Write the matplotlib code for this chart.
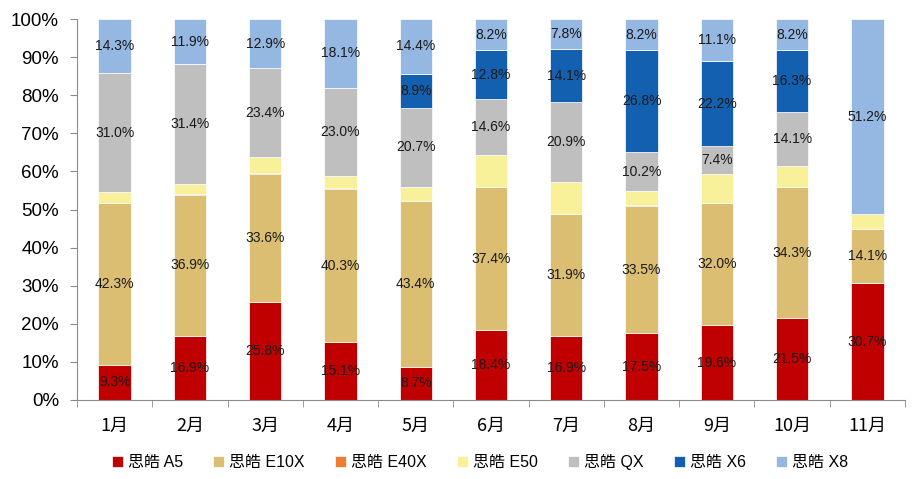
import numpy as np
import matplotlib.pyplot as plt
from matplotlib.ticker import FixedLocator, PercentFormatter

# monthly share of each model, %
months = ['1月', '2月', '3月', '4月', '5月', '6月', '7月', '8月', '9月', '10月', '11月']
a5 = [9.3, 16.9, 25.8, 15.1, 8.7, 18.4, 16.9, 17.5, 19.6, 21.5, 30.7]
e10x = [42.3, 36.9, 33.6, 40.3, 43.4, 37.4, 31.9, 33.5, 32.0, 34.3, 14.1]
e40x = [0.2, 0.2, 0.2, 0.2, 0.2, 0.1, 0.1, 0.1, 0.1, 0.1, 0.0]
e50 = [2.9, 2.7, 4.1, 3.3, 3.7, 8.5, 8.3, 3.7, 7.6, 5.5, 4.0]
qx = [31.0, 31.4, 23.4, 23.0, 20.7, 14.6, 20.9, 10.2, 7.4, 14.1, 0.0]
x6 = [0.0, 0.0, 0.0, 0.0, 8.9, 12.8, 14.1, 26.8, 22.2, 16.3, 0.0]
x8 = [14.3, 11.9, 12.9, 18.1, 14.4, 8.2, 7.8, 8.2, 11.1, 8.2, 51.2]

series = [
    ('思皓 A5', a5, '#C00000', True),
    ('思皓 E10X', e10x, '#DBBE72', True),
    ('思皓 E40X', e40x, '#ED7D31', False),
    ('思皓 E50', e50, '#F9F09A', False),
    ('思皓 QX', qx, '#BFBFBF', True),
    ('思皓 X6', x6, '#1360B0', True),
    ('思皓 X8', x8, '#95B8E2', True),
]

plt.rcParams['font.family'] = ['Liberation Sans', 'Noto Sans CJK SC']

fig = plt.figure(figsize=(9.18, 4.79), dpi=100)
ax = fig.add_axes([77 / 918, 1 - 400 / 479, (905 - 77) / 918, (400 - 19) / 479])

x = np.arange(len(months))
bottom = np.zeros(len(months))
for name, vals, color, labelled in series:
    vals = np.array(vals)
    ax.bar(x, vals, 0.43, bottom=bottom, color=color, label=name,
           edgecolor='white', linewidth=0.5)
    if labelled:
        for xi, b, v in zip(x, bottom, vals):
            if v > 0:
                ax.text(xi, b + v / 2, f'{v:.1f}%', ha='center', va='center',
                        fontsize=10, color='#1a1a1a')
    bottom += vals

ax.set_xlim(-0.5, len(months) - 0.5)
ax.set_ylim(0, 100)
ax.yaxis.set_major_locator(FixedLocator(np.arange(0, 101, 10)))
ax.yaxis.set_major_formatter(PercentFormatter(decimals=0))
ax.set_xticks(x)
ax.set_xticklabels(months, fontsize=13, family=['Noto Sans CJK SC'])
ax.xaxis.set_minor_locator(FixedLocator(np.arange(-0.5, len(months), 1)))
ax.tick_params(axis='x', which='major', length=0, pad=12)
ax.tick_params(axis='x', which='minor', length=5, color='#8c8c8c', direction='out')
ax.tick_params(axis='y', length=5, color='#8c8c8c', labelsize=13.5, pad=8)

for s in ['top', 'right']:
    ax.spines[s].set_visible(False)
for s in ['left', 'bottom']:
    ax.spines[s].set_color('#8c8c8c')

fig.legend(loc='center', bbox_to_anchor=(480 / 918, 1 - 462 / 479), ncol=7, frameon=False,
           handlelength=0.7, handleheight=0.7, handletextpad=0.3, columnspacing=1.9,
           prop={'family': ['Liberation Sans', 'Noto Sans CJK SC'], 'size': 11.5})

fig.savefig('out.png', dpi=100)
